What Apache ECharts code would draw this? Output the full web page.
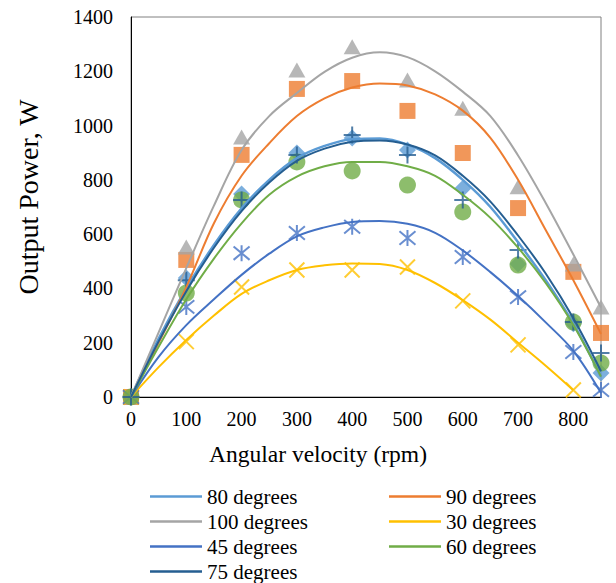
<!DOCTYPE html>
<html>
<head>
<meta charset="utf-8">
<script src="https://cdn.jsdelivr.net/npm/echarts@6/dist/echarts.min.js"></script>
<style>
  html, body { margin: 0; padding: 0; background: #fff; }
  #chart { width: 616px; height: 583px; }
</style>
</head>
<body>
<div id="chart"></div>
<script>
// Measured output power (W) at each angular velocity (rpm), per blade angle
const rpm = [0, 100, 200, 300, 400, 500, 600, 700, 800, 850];
const rpm30 = [0, 100, 200, 300, 400, 500, 600, 700, 800];
const power80 = [0, 438, 748, 899, 954, 910, 768, 490, 270, 88];
const power90 = [0, 505, 892, 1135, 1164, 1054, 899, 696, 461, 236];
const power100 = [0, 553, 958, 1205, 1290, 1168, 1064, 775, 490, 332];
const power30 = [0, 204, 405, 468, 468, 479, 354, 192, 26];
const power45 = [0, 332, 530, 604, 627, 586, 516, 368, 166, 26];
const power60 = [0, 383, 726, 866, 833, 781, 682, 486, 276, 125];
const power75 = [0, 430, 726, 892, 965, 892, 726, 542, 276, 162];

// Trend curves, sampled every 50 rpm
const trendRpm = [0, 50, 100, 150, 200, 250, 300, 350, 400, 450, 500, 550, 600, 650, 700, 750, 800, 850];
const trendRpm30 = [0, 50, 100, 150, 200, 250, 300, 350, 400, 450, 500, 550, 600, 650, 700, 750, 800];
const trend80 = [0, 215, 400, 560, 695, 800, 880, 925, 950, 952, 930, 880, 800, 700, 570, 430, 270, 75];
const trend90 = [0, 200, 405, 640, 815, 935, 1035, 1100, 1140, 1155, 1148, 1115, 1055, 955, 800, 615, 430, 232];
const trend100 = [0, 238, 475, 705, 910, 1035, 1120, 1198, 1250, 1270, 1252, 1200, 1125, 1035, 890, 715, 525, 330];
const trend30 = [0, 110, 210, 300, 380, 430, 468, 485, 492, 490, 468, 420, 357, 285, 200, 115, 25];
const trend45 = [0, 148, 265, 360, 450, 528, 592, 625, 645, 648, 638, 605, 540, 460, 372, 275, 170, 15];
const trend60 = [0, 185, 360, 510, 640, 745, 812, 850, 866, 866, 850, 815, 745, 660, 550, 420, 265, 75];
const trend75 = [0, 205, 390, 550, 685, 790, 870, 915, 940, 945, 930, 890, 815, 720, 595, 455, 290, 95];

const legendLeft = ['80 degrees', '100 degrees', '45 degrees', '75 degrees'];
const legendRight = ['90 degrees', '30 degrees', '60 degrees'];

const serif = "'Liberation Serif', 'Times New Roman', serif";

const pairs = (xs, ys) => xs.map((x, i) => [x, ys[i]]);

const plusPath = 'path://M5,0L5,10M0,5L10,5';
const crossPath = 'path://M0,0L10,10M10,0L0,10';
const starPath = 'path://M5,0L5,10M0.8,0.8L9.2,9.2M9.2,0.8L0.8,9.2';

const sets = [
  { name: '80 degrees', color: '#5B9BD5', xs: rpm, ys: power80, txs: trendRpm, tys: trend80, symbol: 'diamond', size: 17, width: 2.5 },
  { name: '90 degrees', color: '#ED7D31', xs: rpm, ys: power90, txs: trendRpm, tys: trend90, symbol: 'rect', size: 16, width: 2 },
  { name: '100 degrees', color: '#A5A5A5', xs: rpm, ys: power100, txs: trendRpm, tys: trend100, symbol: 'triangle', size: [17, 15], width: 2 },
  { name: '30 degrees', color: '#FFC000', xs: rpm30, ys: power30, txs: trendRpm30, tys: trend30, symbol: crossPath, size: 15, stroke: true, width: 2 },
  { name: '45 degrees', color: '#4472C4', xs: rpm, ys: power45, txs: trendRpm, tys: trend45, symbol: starPath, size: 16, stroke: true, width: 2 },
  { name: '60 degrees', color: '#70AD47', xs: rpm, ys: power60, txs: trendRpm, tys: trend60, symbol: 'circle', size: 17, width: 2 },
  { name: '75 degrees', color: '#255E91', xs: rpm, ys: power75, txs: trendRpm, tys: trend75, symbol: plusPath, size: 17, stroke: true, width: 2 }
];

const series = [];
sets.forEach((s) => {
  series.push({
    name: s.name + ' measured',
    type: 'scatter',
    data: pairs(s.xs, s.ys),
    symbol: s.symbol,
    symbolSize: s.size,
    z: 2,
    silent: true,
    itemStyle: s.stroke
      ? { color: 'none', borderColor: s.color, borderWidth: 2 }
      : { color: s.color }
  });
});
sets.forEach((s) => {
  series.push({
    name: s.name,
    type: 'line',
    data: pairs(s.txs, s.tys),
    smooth: 0.35,
    symbol: 'none',
    z: 3,
    silent: true,
    color: s.color,
    lineStyle: { color: s.color, width: s.width }
  });
});

const legendCommon = {
  orient: 'vertical',
  top: 484,
  height: 120,
  padding: 0,
  itemWidth: 52,
  itemHeight: 2.5,
  itemGap: 0,
  icon: 'rect',
  selectedMode: false,
  textStyle: { fontFamily: serif, fontSize: 21, lineHeight: 25, color: '#000' }
};

const chart = echarts.init(document.getElementById('chart'), null, { renderer: 'svg' });
chart.setOption({
  animation: false,
  backgroundColor: '#fff',
  grid: {
    left: 131, right: 15, top: 17, bottom: 186,
    show: true, borderColor: '#808080', borderWidth: 1, backgroundColor: 'transparent'
  },
  legend: [
    Object.assign({}, legendCommon, { left: 150, data: legendLeft }),
    Object.assign({}, legendCommon, { left: 389, data: legendRight })
  ],
  xAxis: {
    type: 'value',
    min: 0, max: 850, interval: 100,
    name: 'Angular velocity (rpm)',
    nameLocation: 'middle',
    nameGap: 45,
    nameTextStyle: { fontFamily: serif, fontSize: 23.5, color: '#000', padding: [0, 96, 0, 0] },
    axisLine: { show: true, onZero: false, lineStyle: { color: '#000', width: 1 } },
    axisTick: { show: false },
    splitLine: { show: false },
    axisLabel: {
      fontFamily: serif, fontSize: 20, color: '#000', margin: 12,
      formatter: (v) => (v % 100 === 0 ? String(v) : '')
    }
  },
  yAxis: {
    type: 'value',
    min: 0, max: 1400, interval: 200,
    name: 'Output Power, W',
    nameLocation: 'middle',
    nameGap: 89,
    nameTextStyle: { fontFamily: serif, fontSize: 28, color: '#000', padding: [0, 0, 0, 20] },
    axisLine: { show: true, onZero: false, lineStyle: { color: '#000', width: 1 } },
    axisTick: { show: false },
    splitLine: { show: false },
    axisLabel: {
      fontFamily: serif, fontSize: 20, color: '#000', margin: 18,
      formatter: (v) => String(v)
    }
  },
  series: series
});
</script>
</body>
</html>
